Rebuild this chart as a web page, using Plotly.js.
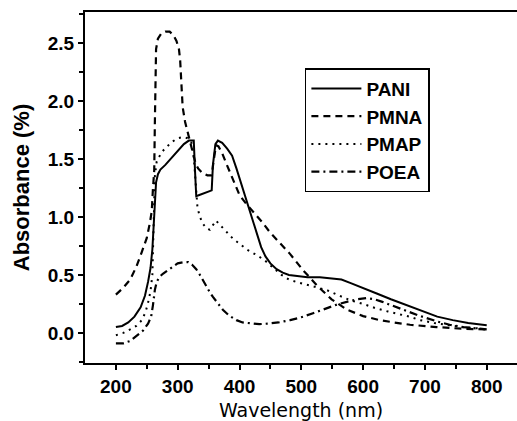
<!DOCTYPE html>
<html>
<head>
<meta charset="utf-8">
<script src="https://cdn.plot.ly/plotly-3.0.1.min.js"></script>
<style>
  html, body { margin: 0; padding: 0; background: #fff; }
  #chart { width: 517px; height: 421px; }
</style>
</head>
<body>
<div id="chart"></div>
<script>
// PANI
const paniWl = [200, 210, 220, 230, 240, 247, 252, 256, 259, 261, 263, 265, 268, 272, 280, 290, 300, 310, 318, 326, 328, 330, 335, 345, 355, 357, 361, 365, 372, 380, 388, 395, 402, 409, 415, 422, 428, 435, 442, 450, 460, 470, 480, 495, 510, 530, 550, 565, 580, 600, 622, 645, 670, 695, 720, 745, 770, 800];
const paniAbs = [0.05, 0.06, 0.09, 0.14, 0.22, 0.32, 0.44, 0.56, 0.72, 0.92, 1.12, 1.30, 1.37, 1.41, 1.45, 1.51, 1.57, 1.63, 1.66, 1.66, 1.40, 1.18, 1.19, 1.21, 1.23, 1.45, 1.63, 1.66, 1.64, 1.59, 1.53, 1.42, 1.30, 1.18, 1.07, 0.95, 0.84, 0.74, 0.66, 0.60, 0.55, 0.52, 0.50, 0.49, 0.48, 0.48, 0.47, 0.46, 0.43, 0.39, 0.34, 0.29, 0.24, 0.19, 0.14, 0.11, 0.085, 0.065];
// PMNA
const pmnaWl = [200, 212, 223, 233, 242, 250, 255, 258, 260, 262, 263, 264, 265, 268, 273, 280, 287, 293, 298, 302, 304, 306, 308, 312, 316, 320, 325, 329, 333, 340, 348, 355, 358, 362, 366, 372, 378, 385, 393, 400, 410, 422, 436, 449, 465, 482, 503, 527, 549, 574, 600, 627, 650, 676, 719, 762, 800];
const pmnaAbs = [0.33, 0.39, 0.46, 0.57, 0.70, 0.82, 0.95, 1.05, 1.25, 1.40, 1.80, 2.20, 2.45, 2.54, 2.58, 2.60, 2.60, 2.57, 2.52, 2.45, 2.35, 2.15, 1.95, 1.82, 1.74, 1.66, 1.56, 1.46, 1.42, 1.38, 1.36, 1.36, 1.48, 1.62, 1.61, 1.55, 1.47, 1.38, 1.27, 1.19, 1.12, 1.05, 0.96, 0.87, 0.78, 0.68, 0.54, 0.40, 0.29, 0.20, 0.145, 0.11, 0.09, 0.07, 0.05, 0.035, 0.03];
// PMAP
const pmapWl = [200, 212, 223, 233, 242, 248, 252, 256, 259, 261, 263, 266, 274, 283, 291, 300, 308, 316, 322, 326, 329, 332, 336, 341, 347, 352, 357, 362, 367, 374, 382, 390, 400, 412, 425, 440, 455, 468, 480, 498, 520, 541, 562, 580, 600, 622, 640, 655, 675, 692, 715, 735, 760, 784, 800];
const pmapAbs = [-0.02, 0.00, 0.03, 0.06, 0.11, 0.18, 0.26, 0.36, 0.50, 0.85, 1.35, 1.48, 1.56, 1.61, 1.65, 1.68, 1.69, 1.68, 1.65, 1.52, 1.25, 1.08, 1.00, 0.94, 0.90, 0.89, 0.93, 0.97, 0.94, 0.90, 0.86, 0.81, 0.77, 0.72, 0.68, 0.63, 0.56, 0.50, 0.46, 0.43, 0.40, 0.37, 0.32, 0.28, 0.25, 0.21, 0.185, 0.165, 0.14, 0.11, 0.085, 0.07, 0.05, 0.04, 0.03];
// POEA
const poeaWl = [200, 212, 223, 233, 244, 252, 257, 260, 263, 266, 270, 276, 284, 292, 300, 309, 317, 323, 330, 336, 342, 347, 352, 357, 365, 373, 383, 395, 405, 418, 432, 446, 463, 482, 500, 519, 540, 558, 575, 590, 606, 618, 630, 645, 664, 690, 719, 740, 762, 780, 800];
const poeaAbs = [-0.09, -0.09, -0.07, -0.03, 0.02, 0.08, 0.14, 0.24, 0.37, 0.44, 0.48, 0.51, 0.54, 0.57, 0.60, 0.61, 0.61, 0.59, 0.55, 0.50, 0.44, 0.39, 0.35, 0.31, 0.25, 0.20, 0.15, 0.11, 0.09, 0.08, 0.075, 0.08, 0.09, 0.11, 0.135, 0.17, 0.21, 0.245, 0.27, 0.29, 0.30, 0.29, 0.27, 0.24, 0.20, 0.15, 0.10, 0.07, 0.05, 0.04, 0.03];

const xTicks = [200, 300, 400, 500, 600, 700, 800];
const yTicks = [0.0, 0.5, 1.0, 1.5, 2.0, 2.5];
const yTickText = ['0.0', '0.5', '1.0', '1.5', '2.0', '2.5'];

const data = [
  {x: paniWl, y: paniAbs, name: 'PANI', mode: 'lines', line: {color: '#000', width: 2}},
  {x: pmnaWl, y: pmnaAbs, name: 'PMNA', mode: 'lines', line: {color: '#000', width: 2.2, dash: '7px,5px'}},
  {x: pmapWl, y: pmapAbs, name: 'PMAP', mode: 'lines', line: {color: '#000', width: 2, dash: '2px,5px'}},
  {x: poeaWl, y: poeaAbs, name: 'POEA', mode: 'lines', line: {color: '#000', width: 2.2, dash: '8px,4px,2px,4px'}}
];

const tickFont = {family: 'Liberation Sans, Arial, sans-serif', size: 19, color: '#000', weight: 'bold'};

const layout = {
  width: 517, height: 421,
  margin: {l: 85, r: 0, t: 12, b: 58},
  paper_bgcolor: '#fff', plot_bgcolor: '#fff',
  showlegend: true,
  legend: {
    x: 0.509, y: 0.84, xanchor: 'left', yanchor: 'top',
    bordercolor: '#000', borderwidth: 1.5, bgcolor: '#fff',
    itemwidth: 50,
    font: {family: 'Liberation Sans, Arial, sans-serif', size: 19, color: '#000', weight: 'bold'}
  },
  xaxis: {
    range: [150, 849],
    tickvals: xTicks,
    ticks: 'outside', ticklen: 5, tickwidth: 2, tickcolor: '#000',
    minor: {tickvals: [250, 350, 450, 550, 650, 750], ticks: 'outside', ticklen: 4, tickwidth: 2, tickcolor: '#000'},
    showline: true, linewidth: 2, linecolor: '#000', mirror: true,
    showgrid: false, zeroline: false,
    tickfont: tickFont,
    title: {text: 'Wavelength (nm)', standoff: 9, font: {family: 'DejaVu Sans, sans-serif', size: 19, color: '#000'}}
  },
  yaxis: {
    range: [-0.26, 2.77],
    tickvals: yTicks, ticktext: yTickText,
    ticks: 'outside', ticklen: 5, tickwidth: 2, tickcolor: '#000',
    minor: {tickvals: [-0.25, 0.25, 0.75, 1.25, 1.75, 2.25, 2.75], ticks: 'outside', ticklen: 4, tickwidth: 2, tickcolor: '#000'},
    showline: true, linewidth: 2, linecolor: '#000',
    showgrid: false, zeroline: false,
    tickfont: tickFont,
    title: {text: 'Absorbance (%)', standoff: 12, font: {family: 'Liberation Sans, Arial, sans-serif', size: 22, color: '#000', weight: 'bold'}}
  }
};

Plotly.newPlot('chart', data, layout, {displayModeBar: false, staticPlot: true});
</script>
</body>
</html>
